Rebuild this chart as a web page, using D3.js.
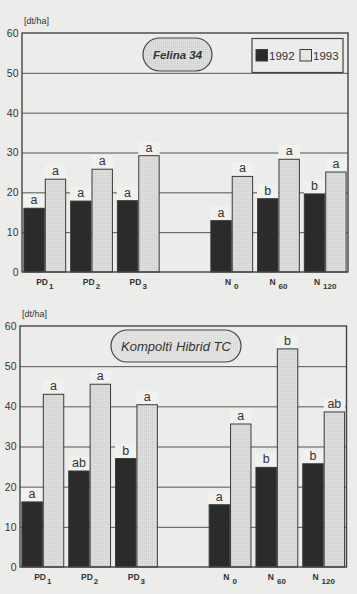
<!DOCTYPE html>
<html>
<head>
<meta charset="utf-8">
<script src="https://cdn.jsdelivr.net/npm/d3@7/dist/d3.min.js"></script>
<style>
  html, body { margin: 0; padding: 0; background: #ececea; }
  svg { display: block; }
</style>
</head>
<body>
<svg id="chart" width="357" height="594"></svg>
<script>
// ---------- data ----------
const slots = ["PD1", "PD2", "PD3", "gap", "N0", "N60", "N120"];
const categories = ["PD1", "PD2", "PD3", "N0", "N60", "N120"];
const catBase = ["PD", "PD", "PD", "N", "N", "N"];
const catSub = ["1", "2", "3", "0", "60", "120"];
const years = ["1992", "1993"];
const yTicks = [0, 10, 20, 30, 40, 50, 60];

const felina1992 = [16.0, 17.8, 17.9, 12.9, 18.4, 19.6];
const felina1993 = [23.3, 25.8, 29.2, 24.0, 28.3, 25.1];
const felinaLetters1992 = ["a", "a", "a", "a", "b", "b"];
const felinaLetters1993 = ["a", "a", "a", "a", "a", "a"];

const kompolti1992 = [16.2, 23.9, 27.0, 15.5, 24.8, 25.7];
const kompolti1993 = [43.0, 45.5, 40.4, 35.6, 54.3, 38.6];
const kompoltiLetters1992 = ["a", "ab", "b", "a", "b", "b"];
const kompoltiLetters1993 = ["a", "a", "a", "a", "b", "ab"];

// ---------- styles ----------
const FONT = "'Liberation Sans', Arial, sans-serif";
const INK = "#333";
const PAPER = "#ececea";

const svg = d3.select("#chart");
const defs = svg.append("defs");
const pat = defs.append("pattern").attr("id", "dots").attr("width", 2).attr("height", 2)
  .attr("patternUnits", "userSpaceOnUse");
pat.append("rect").attr("width", 2).attr("height", 2).attr("fill", "#dededc");
pat.append("rect").attr("x", 1).attr("y", 1).attr("width", 1).attr("height", 1).attr("fill", "#cbcbc9");

const pat2 = defs.append("pattern").attr("id", "dots2").attr("width", 2).attr("height", 2)
  .attr("patternUnits", "userSpaceOnUse");
pat2.append("rect").attr("width", 2).attr("height", 2).attr("fill", "#e4e4e2");
pat2.append("rect").attr("x", 1).attr("y", 1).attr("width", 1).attr("height", 1).attr("fill", "#d4d4d2");

function drawPanel(cfg) {
  const { left, right, top, bottom, v1992, v1993, l1992, l1993 } = cfg;
  const g = svg.append("g");
  const y = d3.scaleLinear().domain([0, 60]).range([bottom, top]);
  const x = d3.scaleBand().domain(slots).range([left, right]).paddingInner(0.085).paddingOuter(0.03);
  const xi = d3.scaleBand().domain(years).range([0, x.bandwidth()]);

  // unit label
  g.append("text").attr("x", left + 2).attr("y", top - 9)
    .attr("font-family", FONT).attr("font-size", 9).attr("fill", INK).text("[dt/ha]");

  // grid + ticks
  const axis = d3.axisLeft(y).tickValues(yTicks).tickSize(-(right - left)).tickPadding(3.5);
  const ag = g.append("g").attr("transform", `translate(${left},0)`).call(axis);
  ag.select(".domain").remove();
  ag.selectAll(".tick line").attr("stroke", "#555").attr("stroke-width", 1)
    .attr("opacity", d => (d === 0 || d === 60) ? 0 : 1);
  ag.selectAll(".tick text").attr("font-family", FONT).attr("font-size", 10.5).attr("fill", INK);

  const rows = categories.map((c, i) => ({
    cat: c, base: catBase[i], sub: catSub[i],
    bars: [
      { year: "1992", v: v1992[i], l: l1992[i] },
      { year: "1993", v: v1993[i], l: l1993[i] }
    ]
  }));

  const grp = g.selectAll(".grp").data(rows).enter().append("g")
    .attr("transform", d => `translate(${x(d.cat)},0)`);

  // label backgrounds (mask the grid lines)
  grp.selectAll(".lbg").data(d => d.bars).enter().append("rect")
    .attr("x", d => xi(d.year)).attr("width", xi.bandwidth())
    .attr("y", d => y(d.v) - 14).attr("height", 14)
    .attr("fill", "#f1f1ef");

  grp.selectAll(".bar").data(d => d.bars).enter().append("rect")
    .attr("x", d => xi(d.year) + 0.5).attr("width", xi.bandwidth() - 1)
    .attr("y", d => y(d.v)).attr("height", d => y(0) - y(d.v))
    .attr("fill", d => d.year === "1992" ? "#2b2b2b" : "url(#dots)")
    .attr("stroke", "#3a3a3a").attr("stroke-width", 1);

  grp.selectAll(".lbl").data(d => d.bars).enter().append("text")
    .attr("x", d => xi(d.year) + xi.bandwidth() / 2).attr("y", d => y(d.v) - 4)
    .attr("text-anchor", "middle").attr("font-family", FONT).attr("font-size", 12.5)
    .attr("fill", INK).text(d => d.l);

  // category labels
  const cl = grp.append("text").attr("x", x.bandwidth() / 2).attr("y", bottom + 13)
    .attr("text-anchor", "middle").attr("font-family", FONT).attr("font-size", 8.5)
    .attr("font-weight", "bold").attr("fill", INK);
  cl.append("tspan").text(d => d.base);
  cl.append("tspan").attr("dy", 3.5).attr("dx", d => d.base === "N" ? 3 : 1)
    .attr("font-size", 8).text(d => d.sub);

  // frame
  g.append("rect").attr("x", left).attr("y", top).attr("width", right - left).attr("height", bottom - top)
    .attr("fill", "none").attr("stroke", "#444").attr("stroke-width", 1.4);

  // title pill
  const p = cfg.pill;
  g.append("rect").attr("x", p.x).attr("y", p.y).attr("width", p.w).attr("height", p.h)
    .attr("rx", p.h / 2).attr("ry", p.h / 2)
    .attr("fill", p.fill).attr("stroke", "#444").attr("stroke-width", 1.2);
  g.append("text").attr("x", p.x + p.w / 2).attr("y", p.y + p.h / 2 + p.size * 0.36)
    .attr("text-anchor", "middle").attr("font-family", FONT).attr("font-size", p.size)
    .attr("font-style", "italic").attr("font-weight", p.weight).attr("fill", "#333").text(p.text);

  return { g, x, y };
}

drawPanel({
  left: 22, right: 348, top: 33, bottom: 272,
  v1992: felina1992, v1993: felina1993, l1992: felinaLetters1992, l1993: felinaLetters1993,
  pill: { x: 143, y: 38, w: 69, h: 33, fill: "url(#dots)", text: "Felina 34", size: 11.5, weight: "bold" }
});

drawPanel({
  left: 20, right: 346.5, top: 326, bottom: 567,
  v1992: kompolti1992, v1993: kompolti1993, l1992: kompoltiLetters1992, l1993: kompoltiLetters1993,
  pill: { x: 111, y: 330, w: 130, h: 32, fill: "url(#dots2)", text: "Kompoltì Hibrid TC", size: 13, weight: "normal" }
});

// legend (top panel)
const lg = svg.append("g");
lg.append("rect").attr("x", 252).attr("y", 38.5).attr("width", 91).attr("height", 34)
  .attr("fill", PAPER).attr("stroke", "#444").attr("stroke-width", 1.2);
const li = lg.selectAll(".li").data(years).enter().append("g")
  .attr("transform", (d, i) => `translate(${256 + i * 44},49.5)`);
li.append("rect").attr("width", 11.5).attr("height", 11.5)
  .attr("fill", d => d === "1992" ? "#2b2b2b" : "#e6e6e4").attr("stroke", "#3a3a3a").attr("stroke-width", 1);
li.append("text").attr("x", 13).attr("y", 10.5).attr("font-family", FONT).attr("font-size", 11.5)
  .attr("fill", INK).text(d => d);
</script>
</body>
</html>
